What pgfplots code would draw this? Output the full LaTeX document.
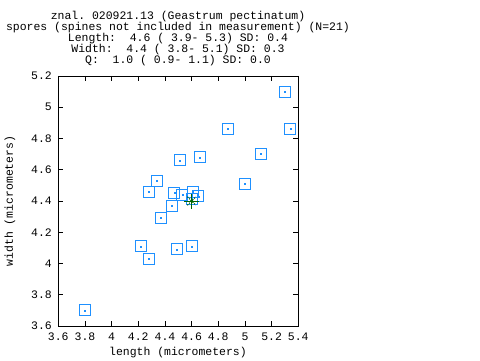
\documentclass[border=0pt]{standalone}
\usepackage{fontspec}
\setmainfont{Liberation Mono}
\usepackage{pgfplots}
\pgfplotsset{compat=1.18}
\definecolor{boxblue}{RGB}{30,144,255}
\definecolor{stargreen}{RGB}{0,100,0}
\begin{document}
\fontsize{11.5}{12}\selectfont
\begin{tikzpicture}[x=1bp,y=1bp]
\useasboundingbox[fill=white] (0,0) rectangle (480,360);
\begin{axis}[
  at={(58.3bp,34bp)}, anchor=south west,
  width=240bp, height=250bp, scale only axis,
  xmin=3.6, xmax=5.4, ymin=3.6, ymax=5.2,
  xtick={3.6,3.8,4,4.2,4.4,4.6,4.8,5,5.2,5.4},
  xticklabels={3.6,3.8,4,4.2,4.4,4.6,4.8,5,5.2,5.4},
  ytick={3.6,3.8,4,4.2,4.4,4.6,4.8,5,5.2},
  yticklabels={3.6,3.8,4,4.2,4.4,4.6,4.8,5,5.2},
  tick pos=both, tick align=inside,
  major tick length=5bp,
  tick style={black, line width=0.8bp},
  axis line style={black, line width=0.8bp},
  /pgf/number format/assume math mode=true,
  tick label style={font=\fontsize{11.5}{12}\selectfont},
  xticklabel style={anchor=center, yshift=-11bp},
  yticklabel style={anchor=east, xshift=-2.5bp},
  clip=false,
]
\addplot[only marks, mark=square, mark size=5.5bp, boxblue, line width=1bp] coordinates {
(5.30,5.10) (5.34,4.86) (4.87,4.86) (5.12,4.70) (4.66,4.68) (4.51,4.66)
(5.00,4.51) (4.34,4.53) (4.28,4.46) (4.47,4.45) (4.53,4.44) (4.61,4.46)
(4.65,4.43) (4.60,4.41) (4.45,4.37) (4.37,4.29) (4.22,4.11) (4.28,4.03)
(4.49,4.09) (4.60,4.11) (3.80,3.70)
};
\addplot[only marks, mark=square*, mark size=0.5bp, boxblue] coordinates {
(5.30,5.10) (5.34,4.86) (4.87,4.86) (5.12,4.70) (4.66,4.68) (4.51,4.66)
(5.00,4.51) (4.34,4.53) (4.28,4.46) (4.47,4.45) (4.53,4.44) (4.61,4.46)
(4.65,4.43) (4.60,4.41) (4.45,4.37) (4.37,4.29) (4.22,4.11) (4.28,4.03)
(4.49,4.09) (4.60,4.11) (3.80,3.70)
};
\addplot[only marks, mark=x, mark size=6bp, stargreen, mark options={line width=1bp, dash pattern=on 1.2bp off 1.2bp}] coordinates {(4.6,4.40)};
\addplot[only marks, mark=+, mark size=7.5bp, stargreen, mark options={line width=1bp, solid}] coordinates {(4.6,4.40)};
\addplot[only marks, mark=*, mark size=1.2bp, stargreen] coordinates {(4.6,4.40)};
\end{axis}
\node[anchor=center] at (178,343.5) {znal.\ 020921.13 (Geastrum pectinatum)};
\node[anchor=center] at (178,332.5) {spores (spines not included in measurement) (N=21)};
\node[anchor=center] at (178,321.5) {Length:\ \ 4.6 (\ 3.9-\ 5.3) SD:\ 0.4};
\node[anchor=center] at (178,310.5) {Width:\ \ 4.4 (\ 3.8-\ 5.1) SD:\ 0.3};
\node[anchor=center] at (178,299.5) {Q:\ \ 1.0 (\ 0.9-\ 1.1) SD:\ 0.0};
\node[anchor=center] at (178,7) {length (micrometers)};
\node[anchor=center, rotate=90] at (10,159) {width (micrometers)};
\end{tikzpicture}
\end{document}
